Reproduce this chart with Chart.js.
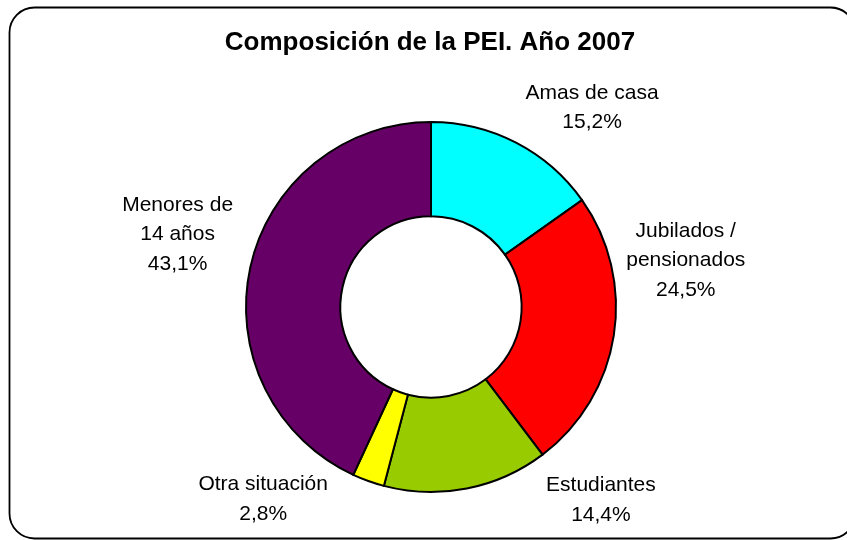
<!DOCTYPE html>
<html>
<head>
<meta charset="utf-8">
<script src="https://cdn.jsdelivr.net/npm/chart.js@4"></script>
<style>
  html, body { margin: 0; padding: 0; background: #fff; }
  #wrap { width: 847px; height: 540px; }
</style>
</head>
<body>
<div id="wrap"><canvas id="chart" width="847" height="540"></canvas></div>
<script>
const title = 'Composición de la PEI. Año 2007';
const categories = [
  ['Amas de casa'],
  ['Jubilados /', 'pensionados'],
  ['Estudiantes'],
  ['Otra situación'],
  ['Menores de', '14 años']
];
const values = [15.2, 24.5, 14.4, 2.8, 43.1];
const valueLabels = ['15,2%', '24,5%', '14,4%', '2,8%', '43,1%'];
const colors = ['#00FFFF', '#FF0000', '#99CC00', '#FFFF00', '#660066'];

// where Excel put each label: angle nudge (deg) from the slice middle, distance as factor of outer radius
const labelNudge = [11.6, -19.2, -30.2, 21.3, 3.6];
const labelDist = [1.385, 1.40, 1.39, 1.38, 1.425];

const framePlugin = {
  id: 'frame',
  beforeDraw(c) {
    const ctx = c.ctx;
    ctx.save();
    ctx.fillStyle = '#fff';
    ctx.fillRect(0, 0, c.width, c.height);
    ctx.beginPath();
    ctx.roundRect(9.5, 7.5, 846, 531, 25);
    ctx.lineWidth = 1.8;
    ctx.strokeStyle = '#000';
    ctx.stroke();
    ctx.restore();
  }
};

const labelPlugin = {
  id: 'sliceLabels',
  afterDraw(c) {
    const ctx = c.ctx;
    ctx.save();
    ctx.fillStyle = '#000';
    ctx.textAlign = 'center';
    ctx.textBaseline = 'middle';
    ctx.font = 'bold 26px "Liberation Sans", Arial, sans-serif';
    ctx.fillText(title, 430, 43);

    ctx.font = '21px "Liberation Sans", Arial, sans-serif';
    const lineH = 29.5;
    c.getDatasetMeta(0).data.forEach((arc, i) => {
      const p = arc.getProps(['x', 'y', 'startAngle', 'endAngle', 'outerRadius'], true);
      const mid = (p.startAngle + p.endAngle) / 2 + labelNudge[i] * Math.PI / 180;
      const r = p.outerRadius * labelDist[i];
      const cx = p.x + Math.cos(mid) * r;
      const cy = p.y + Math.sin(mid) * r;
      const lines = categories[i].concat([valueLabels[i]]);
      const top = cy - (lines.length - 1) * lineH / 2;
      lines.forEach((t, k) => ctx.fillText(t, cx, top + k * lineH));
    });
    ctx.restore();
  }
};

new Chart(document.getElementById('chart'), {
  type: 'doughnut',
  data: {
    labels: categories.map(l => l.join(' ')),
    datasets: [{
      data: values,
      backgroundColor: colors,
      borderColor: '#000',
      borderWidth: 2,
      borderJoinStyle: 'miter'
    }]
  },
  options: {
    responsive: false,
    animation: false,
    cutout: '49%',
    layout: { padding: { left: 245, right: 230, top: 121, bottom: 47 } },
    plugins: {
      legend: { display: false },
      tooltip: { enabled: false },
      title: { display: false }
    }
  },
  plugins: [framePlugin, labelPlugin]
});
</script>
</body>
</html>
